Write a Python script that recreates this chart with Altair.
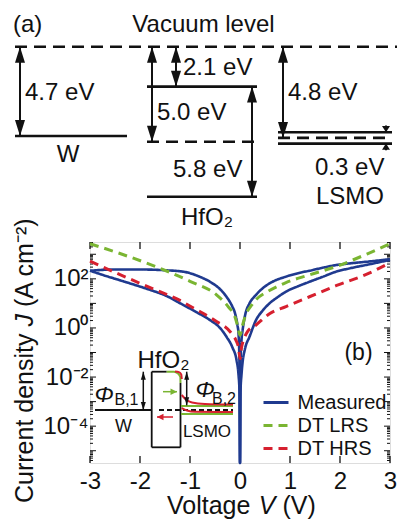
import altair as alt
import pandas as pd

FONT = "Liberation Sans"
INK = "#111111"
BLUE = "#1f3a8f"
GREEN = "#7ab532"
RED = "#d6202f"

# ---------------- (b) J-V curves : log10 of J (A cm^-2) vs V ----------------
SERIES = ["Measured", "DT LRS", "DT HRS"]

meas_lrs_v = [-3.0, -2.5, -2.0, -1.5, -1.13, -0.8, -0.6, -0.4, -0.27, -0.16,
              -0.1, -0.05, -0.03, -0.012, 0.0, 0.012, 0.03, 0.053, 0.1, 0.19,
              0.3, 0.45, 0.65, 0.92, 1.2, 1.39, 1.65, 1.92, 2.3, 2.6, 3.0]
meas_lrs_logj = [2.33, 2.38, 2.38, 2.35, 2.29, 2.08, 1.88, 1.58, 1.27, 0.9,
                 0.6, 0.1, -0.22, -1.3, -5.5, -1.3, -0.5, -0.08, 0.5, 1.0,
                 1.3, 1.61, 1.88, 2.09, 2.25, 2.33, 2.45, 2.56, 2.65, 2.71, 2.8]

meas_hrs_v = [-3.0, -2.7, -2.4, -2.1, -1.8, -1.5, -1.13, -0.85, -0.6, -0.4,
              -0.27, -0.15, -0.07, -0.03, -0.01, 0.0, 0.01, 0.03, 0.05, 0.1,
              0.19, 0.32, 0.45, 0.59, 0.75, 0.92, 1.15, 1.39, 1.65, 1.92,
              2.2, 2.56, 3.0]
meas_hrs_logj = [2.33, 2.13, 1.94, 1.75, 1.55, 1.33, 0.93, 0.62, 0.32, 0.0,
                 -0.36, -0.8, -1.3, -1.9, -2.6, -5.5, -2.6, -1.9, -1.43, -0.85,
                 -0.36, 0.32, 0.7, 1.0, 1.25, 1.48, 1.69, 1.88, 2.08, 2.29,
                 2.43, 2.58, 2.77]

dt_lrs_v = [-3.0, -2.4, -1.75, -1.0, -0.47, -0.23, -0.1, -0.05, 0.0,
            0.05, 0.1, 0.24, 0.32, 0.57, 0.92, 1.39, 1.92, 2.56, 3.0]
dt_lrs_logj = [3.43, 3.03, 2.55, 1.9, 1.35, 0.85, 0.45, 0.1, -0.3,
               0.1, 0.45, 0.95, 1.15, 1.5, 1.85, 2.16, 2.5, 3.03, 3.43]

dt_hrs_v = [-3.0, -2.4, -1.75, -1.2, -0.93, -0.5, -0.17, -0.07, -0.03, 0.0,
            0.03, 0.07, 0.15, 0.32, 0.59, 0.92, 1.39, 1.92, 2.56, 3.0]
dt_hrs_logj = [2.72, 2.17, 1.6, 1.12, 0.81, 0.3, -0.22, -0.55, -0.8, -1.25,
               -0.8, -0.5, -0.15, 0.12, 0.58, 0.87, 1.27, 1.72, 2.21, 2.66]

V_TICKS = [-3, -2, -1, 0, 1, 2, 3]
J_LABELS = [1e-4, 1e-2, 1.0, 1e2]
J_DECADES = [-5, -4, -3, -2, -1, 0, 1, 2, 3]

# ---------------- (a) band diagram : energies below vacuum level (eV) ----------------
W_WF = 4.7          # W work function
HFO2_CHI = 2.1      # HfO2 electron affinity
HFO2_MID = 5.0      # HfO2 dashed level
HFO2_GAP = 5.8      # HfO2 band gap
LSMO_WF = 4.8       # LSMO work function
LSMO_SPLIT = 0.3    # LSMO level splitting

# horizontal extent of each block of the schematic (diagram units)
W_SPAN = (15, 127)
HFO2_SPAN = (147, 257)
LSMO_SPAN = (278, 392)
VAC_SPAN = (15, 397)

rows = []
for name, br, vs, ls in [("Measured", "m1", meas_lrs_v, meas_lrs_logj),
                         ("Measured", "m2", meas_hrs_v, meas_hrs_logj),
                         ("DT LRS", "g", dt_lrs_v, dt_lrs_logj),
                         ("DT HRS", "r", dt_hrs_v, dt_hrs_logj)]:
    for v, l in zip(vs, ls):
        rows.append({"series": name, "branch": br, "V": v, "J": 10 ** l})
curves = pd.DataFrame(rows)

xs = alt.Scale(domain=[-3, 3], nice=False, zero=False)
ys = alt.Scale(type="log", domain=[10 ** -5.5, 10 ** 3.5], nice=False)

leg = alt.Legend(orient="none", legendX=174.5, legendY=149, title=None,
                 symbolType="M-1.25,0L1.25,0", symbolSize=400, symbolStrokeWidth=3,
                 labelFontSize=20, labelFont=FONT, labelColor=INK,
                 labelOffset=10, rowPadding=1, padding=0)
color_enc = alt.Color("series:N", scale=alt.Scale(domain=SERIES, range=[BLUE, GREEN, RED]),
                      legend=leg, sort=SERIES)
dash_enc = alt.StrokeDash("series:N", scale=alt.Scale(domain=SERIES, range=[[1, 0], [9, 6], [9, 6]]),
                          legend=leg, sort=SERIES)

x_axis = alt.Axis(values=V_TICKS,
                  labelExpr="datum.value < 0 ? '-' + abs(datum.value) : '' + datum.value",
                  ticks=False, tickSize=0, domain=False, grid=False,
                  labelFontSize=24, labelFont=FONT, labelColor=INK, labelPadding=6,
                  labelFlush=False, labelOverlap=False, title=None)
y_axis = alt.Axis(values=J_LABELS,
                  labelExpr="datum.value > 50 ? '10²' : datum.value > 0.5 ? '10⁰' : datum.value > 0.005 ? '10⁻²' : '10⁻⁴'",
                  ticks=False, tickSize=0, domain=False, grid=False,
                  labelFontSize=24, labelFont=FONT, labelColor=INK, labelPadding=2,
                  labelOverlap=False, title=None)

meas = alt.Chart(curves[curves.series == "Measured"]).mark_line(
    strokeWidth=2.6, interpolate="monotone").encode(
    x=alt.X("V:Q", scale=xs, axis=x_axis),
    y=alt.Y("J:Q", scale=ys, axis=y_axis),
    color=color_enc, strokeDash=dash_enc, detail="branch:N")
dt = alt.Chart(curves[curves.series != "Measured"]).mark_line(
    strokeWidth=3, interpolate="monotone").encode(
    x=alt.X("V:Q", scale=xs, axis=None),
    y=alt.Y("J:Q", scale=ys, axis=None),
    color=color_enc, strokeDash=dash_enc, detail="branch:N")

# axis titles with italic symbols (mixed styles drawn as text pieces)
x_title = [("Voltage", "normal", 77), ("V", "italic", 168.7), ("(V)", "normal", 192.4)]
y_title = [("Current density", "normal", 261), ("J", "italic", 84.5), ("(A cm⁻²)", "normal", 65)]
titles = []
for t, st, pos in x_title:
    titles.append(alt.Chart(pd.DataFrame({"t": [t]})).mark_text(
        align="left", baseline="alphabetic", fontSize=25, font=FONT, fontStyle=st, color=INK
    ).encode(text="t:N", x=alt.value(pos), y=alt.value(272)))
for t, st, pos in y_title:
    titles.append(alt.Chart(pd.DataFrame({"t": [t]})).mark_text(
        align="left", baseline="alphabetic", fontSize=25, font=FONT, fontStyle=st, color=INK,
        angle=270).encode(text="t:N", x=alt.value(-57), y=alt.value(pos)))

# inward ticks of the frame
xt = pd.DataFrame({"V": V_TICKS})
tick_layers = [
    alt.Chart(xt).mark_rule(color=INK, strokeWidth=1.3).encode(
        x=alt.X("V:Q", scale=xs, axis=None), y=alt.value(221), y2=alt.value(214)),
    alt.Chart(xt).mark_rule(color=INK, strokeWidth=1.3).encode(
        x=alt.X("V:Q", scale=xs, axis=None), y=alt.value(0), y2=alt.value(7)),
]
major = pd.DataFrame({"J": [10.0 ** n for n in J_DECADES]})
minor = pd.DataFrame({"J": [m * 10.0 ** n for n in range(-6, 4) for m in range(2, 10)
                            if 10 ** -5.5 < m * 10.0 ** n < 10 ** 3.5]})
for df, ln in [(major, 6), (minor, 3)]:
    tick_layers.append(alt.Chart(df).mark_rule(color=INK, strokeWidth=1).encode(
        y=alt.Y("J:Q", scale=ys, axis=None), x=alt.value(0), x2=alt.value(ln)))
    tick_layers.append(alt.Chart(df).mark_rule(color=INK, strokeWidth=1).encode(
        y=alt.Y("J:Q", scale=ys, axis=None), x=alt.value(300), x2=alt.value(300 - ln)))


# ---------------- arrow-head helpers (filled triangles as area marks) ----------------
def vheads(xv, tips, sign, hw, hl, xsc, ysc, color=INK, tag="h"):
    """Vertical heads: tip at (x, tip), base at tip + sign*hl."""
    rws = []
    for k, (x0, tp) in enumerate(zip(xv, tips)):
        b = tp + sign * hl
        rws += [{"id": f"{tag}{k}", "x": x0 - hw, "y": b, "b": b},
                {"id": f"{tag}{k}", "x": x0, "y": tp, "b": b},
                {"id": f"{tag}{k}", "x": x0 + hw, "y": b, "b": b}]
    return alt.Chart(pd.DataFrame(rws)).mark_area(color=color, opacity=1, strokeWidth=0).encode(
        x=alt.X("x:Q", scale=xsc, axis=None), y=alt.Y("y:Q", scale=ysc, axis=None),
        y2="b:Q", detail="id:N")


def hheads(tips, yv, sign, hw, hl, xsc, ysc, color=INK, tag="g"):
    """Horizontal heads: tip at (tip, y), base at tip + sign*hl."""
    rws = []
    for k, (tp, y0) in enumerate(zip(tips, yv)):
        b = tp + sign * hl
        rws += [{"id": f"{tag}{k}", "y": y0 - hw, "x": b, "b": b},
                {"id": f"{tag}{k}", "y": y0, "x": tp, "b": b},
                {"id": f"{tag}{k}", "y": y0 + hw, "x": b, "b": b}]
    return alt.Chart(pd.DataFrame(rws)).mark_area(color=color, opacity=1, strokeWidth=0,
                                                   orient="horizontal").encode(
        y=alt.Y("y:Q", scale=ysc, axis=None), x=alt.X("x:Q", scale=xsc, axis=None),
        x2="b:Q", detail="id:N")


# ---------------- (a) band diagram layers ----------------
dx = alt.Scale(domain=[90, 390], nice=False, zero=False)
de = alt.Scale(domain=[0, 7.9], range=[-195.3, -45.2], nice=False, zero=False)

solid_lv = pd.DataFrame([
    {"x": W_SPAN[0], "x2": W_SPAN[1], "E": W_WF},
    {"x": HFO2_SPAN[0], "x2": HFO2_SPAN[1], "E": HFO2_CHI},
    {"x": HFO2_SPAN[0], "x2": HFO2_SPAN[1], "E": HFO2_CHI + HFO2_GAP},
    {"x": LSMO_SPAN[0], "x2": LSMO_SPAN[1], "E": LSMO_WF - LSMO_SPLIT},
    {"x": LSMO_SPAN[0], "x2": LSMO_SPAN[1], "E": LSMO_WF + LSMO_SPLIT},
])
dash_lv = pd.DataFrame([
    {"x": VAC_SPAN[0], "x2": VAC_SPAN[1], "E": 0.0},
    {"x": HFO2_SPAN[0], "x2": HFO2_SPAN[1], "E": HFO2_MID},
    {"x": LSMO_SPAN[0], "x2": LSMO_SPAN[1], "E": LSMO_WF},
])
arrows = pd.DataFrame([
    {"x": 20, "E1": 0.0, "E2": W_WF},
    {"x": 152, "E1": 0.0, "E2": HFO2_MID},
    {"x": 176, "E1": 0.0, "E2": HFO2_CHI},
    {"x": 252, "E1": HFO2_CHI, "E2": HFO2_CHI + HFO2_GAP},
    {"x": 283, "E1": 0.0, "E2": LSMO_WF},
])
split = pd.DataFrame([
    {"x": 386, "E1": LSMO_WF - LSMO_SPLIT - 0.35, "E2": LSMO_WF - LSMO_SPLIT},
    {"x": 386, "E1": LSMO_WF + LSMO_SPLIT, "E2": LSMO_WF + LSMO_SPLIT + 0.35},
])

diag = [
    alt.Chart(solid_lv).mark_rule(color=INK, strokeWidth=2.6).encode(
        x=alt.X("x:Q", scale=dx, axis=None), x2="x2:Q", y=alt.Y("E:Q", scale=de, axis=None)),
    alt.Chart(dash_lv).mark_rule(color=INK, strokeWidth=2.6, strokeDash=[12, 7]).encode(
        x=alt.X("x:Q", scale=dx, axis=None), x2="x2:Q", y=alt.Y("E:Q", scale=de, axis=None)),
    alt.Chart(arrows).mark_rule(color=INK, strokeWidth=2).encode(
        x=alt.X("x:Q", scale=dx, axis=None), y=alt.Y("E1:Q", scale=de, axis=None), y2="E2:Q"),
    vheads(arrows.x, arrows.E1, +1, 5, 0.84, dx, de, tag="au"),
    vheads(arrows.x, arrows.E2, -1, 5, 0.84, dx, de, tag="ad"),
    alt.Chart(split).mark_rule(color=INK, strokeWidth=2).encode(
        x=alt.X("x:Q", scale=dx, axis=None), y=alt.Y("E1:Q", scale=de, axis=None), y2="E2:Q"),
    vheads([386], [LSMO_WF - LSMO_SPLIT], -1, 4, 0.32, dx, de, tag="sd"),
    vheads([386], [LSMO_WF + LSMO_SPLIT], +1, 4, 0.32, dx, de, tag="su"),
]
diag_text_left = pd.DataFrame([
    {"x": 13, "E": -1.14, "t": "(a)"},
    {"x": 25, "E": 2.44, "t": "4.7 eV"},
    {"x": 183, "E": 1.12, "t": "2.1 eV"},
    {"x": 157, "E": 3.49, "t": "5.0 eV"},
    {"x": 173, "E": 6.49, "t": "5.8 eV"},
    {"x": 288, "E": 2.44, "t": "4.8 eV"},
    {"x": 315, "E": 6.38, "t": "0.3 eV"},
])
diag_text_mid = pd.DataFrame([
    {"x": 203.5, "E": -1.14, "t": "Vacuum level"},
    {"x": 68, "E": 5.7, "t": "W"},
    {"x": 207, "E": 9.02, "t": "HfO₂"},
    {"x": 350, "E": 7.91, "t": "LSMO"},
])
diag.append(alt.Chart(diag_text_left).mark_text(align="left", baseline="middle", fontSize=24,
                                                 font=FONT, color=INK).encode(
    x=alt.X("x:Q", scale=dx, axis=None), y=alt.Y("E:Q", scale=de, axis=None), text="t:N"))
diag.append(alt.Chart(diag_text_mid).mark_text(align="center", baseline="middle", fontSize=24,
                                                font=FONT, color=INK).encode(
    x=alt.X("x:Q", scale=dx, axis=None), y=alt.Y("E:Q", scale=de, axis=None), text="t:N"))

# ---------------- inset of (b): barrier sketch, in (V, log10 J) units ----------------
il = alt.Scale(domain=[-5.5, 3.5], nice=False, zero=False)
inset_black = pd.DataFrame([
    {"v": -2.9, "l": -3.342, "v2": -1.766, "l2": -3.342},
    {"v": -1.766, "l": -1.782, "v2": -1.766, "l2": -4.861},
    {"v": -1.766, "l": -4.861, "v2": -1.19, "l2": -4.861},
    {"v": -1.19, "l": -2.242, "v2": -1.19, "l2": -4.861},
    {"v": -1.766, "l": -1.782, "v2": -1.466, "l2": -1.782},
])
inset_dash = pd.DataFrame([{"v": -1.62, "l": -3.342, "v2": -0.14, "l2": -3.342}])
green_paths = pd.DataFrame(
    [{"id": 0, "i": i, "v": v, "l": l} for i, (v, l) in enumerate(
        [(-1.466, -1.782), (-1.32, -1.782), (-1.24, -1.855), (-1.194, -1.998), (-1.19, -2.242)])] +
    [{"id": 1, "i": i, "v": v, "l": l} for i, (v, l) in enumerate([(-1.18, -3.179), (-0.14, -3.179)])] +
    [{"id": 2, "i": i, "v": v, "l": l} for i, (v, l) in enumerate([(-1.18, -3.504), (-0.14, -3.504)])])
red_paths = pd.DataFrame(
    [{"id": 0, "i": i, "v": v, "l": l} for i, (v, l) in enumerate(
        [(-1.30, -1.77), (-1.22, -1.80), (-1.175, -1.896), (-1.165, -2.079)])] +
    [{"id": 1, "i": i, "v": v, "l": l} for i, (v, l) in enumerate(
        [(-1.166, -2.731), (-1.08, -2.914), (-0.96, -3.036), (-0.7, -3.097), (-0.14, -3.118)])] +
    [{"id": 2, "i": i, "v": v, "l": l} for i, (v, l) in enumerate(
        [(-1.166, -3.26), (-1.06, -3.362), (-0.9, -3.415), (-0.14, -3.423)])])
phi_arrows = pd.DataFrame([
    {"v": -1.934, "l1": -1.782, "l2": -3.342},
    {"v": -1.066, "l1": -1.782, "l2": -3.15},
])
g_arrow = pd.DataFrame([{"v": -1.54, "v2": -1.26, "l": -2.596}])
r_arrow = pd.DataFrame([{"v": -1.34, "v2": -1.66, "l": -3.627}])

inset = [
    alt.Chart(inset_black).mark_rule(color=INK, strokeWidth=1.8).encode(
        x=alt.X("v:Q", scale=xs, axis=None), x2="v2:Q",
        y=alt.Y("l:Q", scale=il, axis=None), y2="l2:Q"),
    alt.Chart(inset_dash).mark_rule(color=INK, strokeWidth=1.8, strokeDash=[5, 3]).encode(
        x=alt.X("v:Q", scale=xs, axis=None), x2="v2:Q",
        y=alt.Y("l:Q", scale=il, axis=None), y2="l2:Q"),
    alt.Chart(green_paths).mark_line(color=GREEN, strokeWidth=2, interpolate="monotone").encode(
        x=alt.X("v:Q", scale=xs, axis=None), y=alt.Y("l:Q", scale=il, axis=None),
        detail="id:N", order="i:Q"),
    alt.Chart(red_paths).mark_line(color=RED, strokeWidth=2, interpolate="monotone").encode(
        x=alt.X("v:Q", scale=xs, axis=None), y=alt.Y("l:Q", scale=il, axis=None),
        detail="id:N", order="i:Q"),
    alt.Chart(phi_arrows).mark_rule(color=INK, strokeWidth=1.5).encode(
        x=alt.X("v:Q", scale=xs, axis=None), y=alt.Y("l1:Q", scale=il, axis=None), y2="l2:Q"),
    vheads(phi_arrows.v, phi_arrows.l1, -1, 0.05, 0.33, xs, il, tag="pu"),
    vheads(phi_arrows.v, phi_arrows.l2, +1, 0.05, 0.33, xs, il, tag="pd"),
    alt.Chart(g_arrow).mark_rule(color=GREEN, strokeWidth=1.5).encode(
        x=alt.X("v:Q", scale=xs, axis=None), x2="v2:Q", y=alt.Y("l:Q", scale=il, axis=None)),
    hheads(g_arrow.v2, g_arrow.l, -1, 0.13, 0.13, xs, il, GREEN, tag="gr"),
    alt.Chart(r_arrow).mark_rule(color=RED, strokeWidth=1.5).encode(
        x=alt.X("v:Q", scale=xs, axis=None), x2="v2:Q", y=alt.Y("l:Q", scale=il, axis=None)),
    hheads(r_arrow.v2, r_arrow.l, +1, 0.13, 0.13, xs, il, RED, tag="rl"),
]
inset_text = pd.DataFrame([
    {"v": -1.53, "l": -1.35, "t": "HfO₂", "fs": 24},
    {"v": -2.27, "l": -2.93, "t": "B,1", "fs": 16},
    {"v": -0.32, "l": -2.89, "t": "B,2", "fs": 16},
    {"v": -2.33, "l": -4.05, "t": "W", "fs": 18},
    {"v": -0.66, "l": -4.23, "t": "LSMO", "fs": 17},
    {"v": 2.37, "l": -1.03, "t": "(b)", "fs": 23},
])
phi_text = pd.DataFrame([
    {"v": -2.72, "l": -2.73, "t": "Φ"},
    {"v": -0.7, "l": -2.53, "t": "Φ"},
])
inset.append(alt.Chart(inset_text).mark_text(align="center", baseline="middle", font=FONT,
                                              color=INK).encode(
    x=alt.X("v:Q", scale=xs, axis=None), y=alt.Y("l:Q", scale=il, axis=None),
    text="t:N", size=alt.Size("fs:Q", scale=None, legend=None)))
inset.append(alt.Chart(phi_text).mark_text(align="center", baseline="middle", font=FONT,
                                           fontStyle="italic", fontSize=23, color=INK).encode(
    x=alt.X("v:Q", scale=xs, axis=None), y=alt.Y("l:Q", scale=il, axis=None), text="t:N"))

chart = alt.layer(*diag, *tick_layers, *inset, *titles, meas, dt).resolve_scale(
    x="independent", y="independent"
).properties(
    width=300, height=221,
    autosize=alt.AutoSizeParams(type="none"),
    padding={"left": 90, "top": 242, "right": 7, "bottom": 58},
).configure_view(stroke=INK, strokeWidth=1.6).configure(font=FONT)

chart.save("out.html", embed_options={"renderer": "svg", "actions": False})
